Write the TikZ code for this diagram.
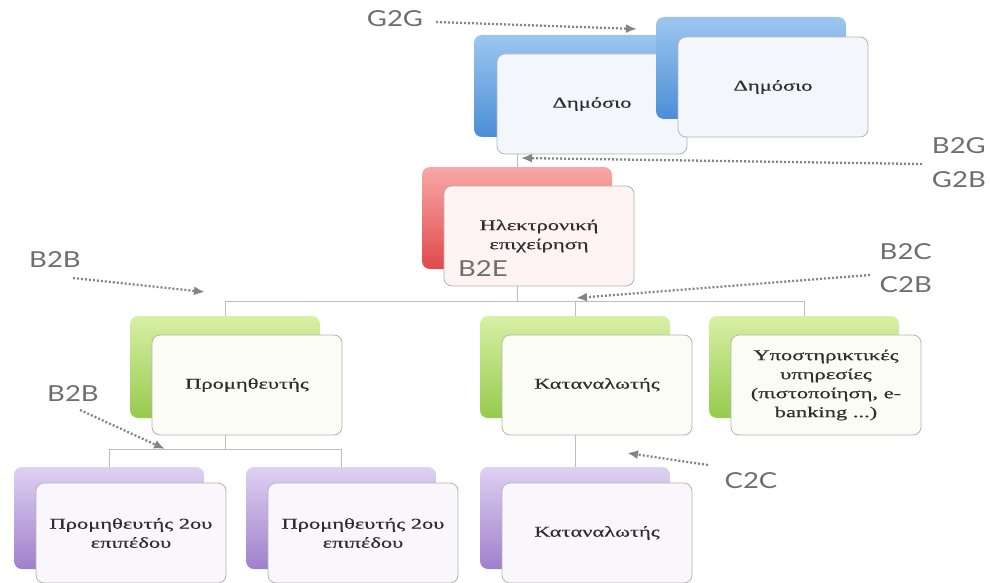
\documentclass[tikz,border=0pt]{standalone}
\usepackage{fontspec}
\setmainfont{Liberation Serif}
\newfontfamily\grk[FakeStretch=1.5,FakeBold=0.6]{Liberation Serif}
\newfontfamily\lbl[FakeStretch=1.25]{Lato}
\usetikzlibrary{arrows.meta}
\definecolor{blueT}{HTML}{9CC6F0}
\definecolor{blueB}{HTML}{4A8ED6}
\definecolor{redT}{HTML}{F8A8A8}
\definecolor{redB}{HTML}{E04A4A}
\definecolor{greenT}{HTML}{D8F0A6}
\definecolor{greenB}{HTML}{96CA4C}
\definecolor{purT}{HTML}{DED1F2}
\definecolor{purB}{HTML}{9F80CB}
\definecolor{blueF}{HTML}{F3F6FB}
\definecolor{redF}{HTML}{FDF3F3}
\definecolor{greenF}{HTML}{FBFDF5}
\definecolor{purF}{HTML}{F9F6FC}
\definecolor{frameC}{HTML}{B4B4B4}
\definecolor{lineC}{HTML}{BDBDBD}
\definecolor{arrC}{HTML}{858585}
\definecolor{labC}{HTML}{6E6E6E}
\definecolor{textC}{HTML}{2E2E2E}
\begin{document}
\begin{tikzpicture}[x=1pt,y=-1pt,
  back/.style={rounded corners=8pt, minimum width=190pt, minimum height=102pt, inner sep=0pt, shading=axis},
  blueb/.style={back, top color=blueT, bottom color=blueB},
  redb/.style={back, top color=redT, bottom color=redB},
  greenb/.style={back, top color=greenT, bottom color=greenB},
  purb/.style={back, top color=purT, bottom color=purB},
  front/.style={draw=frameC, line width=0.8pt, rounded corners=8pt, minimum width=190pt, minimum height=100pt, inner sep=2pt, align=center, text=textC, font=\grk\fontsize{15}{19}\selectfont},
  conn/.style={draw=lineC, line width=0.9pt},
  darr/.style={draw=arrC, line width=2.3pt, dash pattern=on 2pt off 2pt, -{Latex[length=11pt,width=9pt]}},
  lab/.style={font=\lbl\fontsize{22}{26}\selectfont, text=labC, inner sep=0pt}
]
\useasboundingbox (0,0) rectangle (990,583);
\node[redb] (redb) at (517,218) {};
\coordinate (bus) at (517,301);
\node[greenb] (g1b) at (225,367) {};
\node[greenb] (g2b) at (575,367) {};
\node[greenb] (g3b) at (804,367) {};
\node[purb] (p1b) at (109,518) {};
\node[purb] (p2b) at (341,518) {};
\node[purb] (p3b) at (575,518) {};
\node[front, fill=redF] (redf) at (539,236) {Ηλεκτρονική\\επιχείρηση};
\node[front, fill=greenF] (g1f) at (247,385) {Προμηθευτής};
\node[front, fill=greenF] (g2f) at (597,385) {Καταναλωτής};
\node[front, fill=greenF] (g3f) at (826,385) {Υποστηρικτικές\\υπηρεσίες\\(πιστοποίηση, e-\\banking ...)};
\node[front, fill=purF] (p1f) at (131,533) {Προμηθευτής 2ου\\επιπέδου};
\node[front, fill=purF] (p2f) at (363,533) {Προμηθευτής 2ου\\επιπέδου};
\node[front, fill=purF] (p3f) at (597,533) {Καταναλωτής};
\node[blueb] (b1b) at (569,86) {};
\node[front, fill=blueF] (b1f) at (592,104) {Δημόσιο};
\node[blueb] (b2b) at (751,68) {};
\node[front, fill=blueF] (b2f) at (773,87) {Δημόσιο};
% connectors
\draw[conn] (redb.north |- b1f.south) -- (redb.north);
\draw[conn] (redb.north |- redf.south) -- (bus);
\draw[conn] (g1b.north) -- (g1b.north |- bus) -- (g3b.north |- bus) -- (g3b.north);
\draw[conn] (g2b.north |- bus) -- (g2b.north);
\draw[conn] (g1b.north |- g1f.south) -- ++(0,14) coordinate (bus2);
\draw[conn] (p1b.north) -- (p1b.north |- bus2) -- (p2b.north |- bus2) -- (p2b.north);
\draw[conn] (g2b.north |- g2f.south) -- (p3b.north);
% labels
\node[lab] (g2g) at (395,19) {G2G};
\node[lab, anchor=east] (b2g) at (986,146) {B2G};
\node[lab, anchor=east] (g2b) at (986,180) {G2B};
\node[lab] (b2b) at (55,260) {B2B};
\node[lab, anchor=east] (b2c) at (932,252) {B2C};
\node[lab, anchor=east] (c2b) at (932,285) {C2B};
\node[lab] (b2bl) at (73,394) {B2B};
\node[lab] (c2c) at (751,481) {C2C};
\node[lab, anchor=west] (b2e) at (458,269) {B2E};
% dotted arrows
\coordinate (a1s) at (436,22); \coordinate (a1e) at (637,29);
\coordinate (a2s) at (922,164); \coordinate (a2e) at (521,158);
\coordinate (a3s) at (73,278); \coordinate (a3e) at (205,292);
\coordinate (a4s) at (870,275); \coordinate (a4e) at (576,298);
\coordinate (a5s) at (80,410); \coordinate (a5e) at (165,449);
\coordinate (a6s) at (708,465); \coordinate (a6e) at (627,453);
\draw[darr] (a1s) -- (a1e);
\draw[darr] (a2s) -- (a2e);
\draw[darr] (a3s) -- (a3e);
\draw[darr] (a4s) -- (a4e);
\draw[darr] (a5s) -- (a5e);
\draw[darr] (a6s) -- (a6e);
\end{tikzpicture}
\end{document}
